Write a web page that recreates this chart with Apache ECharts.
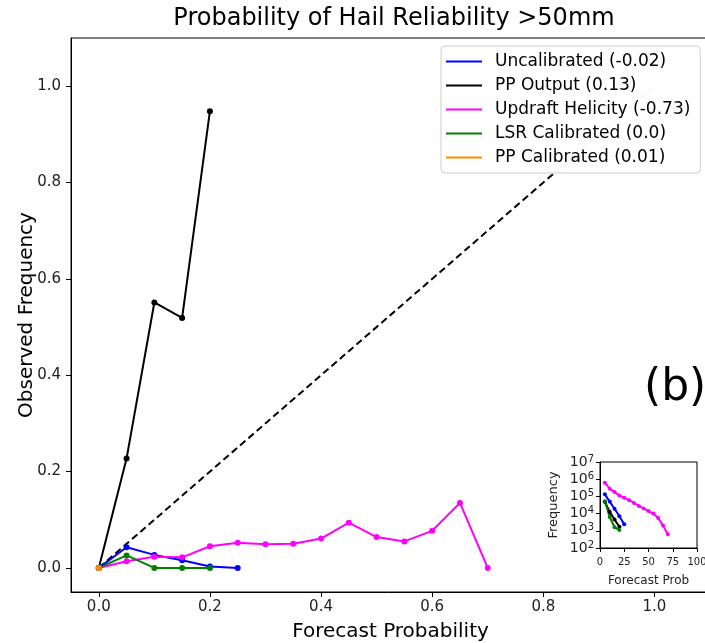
<!DOCTYPE html>
<html>
<head>
<meta charset="utf-8">
<script src="https://cdn.jsdelivr.net/npm/echarts@6/dist/echarts.min.js"></script>
<style>html,body{margin:0;padding:0;background:#fff}#c{width:705px;height:643px}</style>
</head>
<body>
<div id="c"></div>
<script>
// ---- data ----
const probBins = [0, 0.05, 0.1, 0.15, 0.2, 0.25, 0.3, 0.35, 0.4, 0.45, 0.5, 0.55, 0.6, 0.65, 0.7];
const seriesNames = ['Uncalibrated (-0.02)', 'PP Output (0.13)', 'Updraft Helicity (-0.73)', 'LSR Calibrated (0.0)', 'PP Calibrated (0.01)'];
const seriesColors = ['#0000ff', '#000000', '#ff00ff', '#008000', '#ff8c00'];
const uncalObs = [0, 0.043, 0.027, 0.016, 0.003, 0.0];
const ppOutObs = [0, 0.227, 0.551, 0.519, 0.948];
const uhObs = [0, 0.014, 0.023, 0.022, 0.045, 0.052, 0.049, 0.050, 0.061, 0.094, 0.064, 0.055, 0.077, 0.135, 0.0];
const lsrObs = [0, 0.026, 0, 0, 0];
const ppCalObs = [0];
const perfectLine = [[0, 0], [1, 1]];
const mainTicks = [0, 0.2, 0.4, 0.6, 0.8, 1.0];

// inset: forecast prob (%) vs frequency counts
const insetProb = [5, 10, 15, 20, 25, 30, 35, 40, 45, 50, 55, 60, 65, 70];
const uncalCount = [132000, 50000, 19000, 7100, 2400];
const ppOutCount = [49000, 12600, 4500, 1700];
const uhCount = [631000, 282000, 178000, 112000, 83000, 60000, 42000, 28000, 20000, 14000, 10000, 5600, 2000, 630];
const lsrCount = [52000, 6300, 1600, 1100];

const FONT = 'DejaVu Sans';
const pairs = (xs, ys) => ys.map((v, i) => [xs[i], v]);

const mainData = [uncalObs, ppOutObs, uhObs, lsrObs, ppCalObs];
const series = mainData.map((d, i) => ({
  name: seriesNames[i], type: 'line', xAxisIndex: 0, yAxisIndex: 0,
  data: pairs(probBins, d), color: seriesColors[i],
  symbol: 'circle', symbolSize: 6, showSymbol: true,
  lineStyle: {width: 2, color: seriesColors[i]}, itemStyle: {color: seriesColors[i]},
  z: 3 + i, animation: false
}));
series.unshift({
  name: 'perfect', type: 'line', xAxisIndex: 0, yAxisIndex: 0, data: perfectLine,
  symbol: 'none', lineStyle: {color: '#000', width: 2, type: [7, 4]}, z: 2, animation: false
});
const insetData = [[uncalCount, 0], [ppOutCount, 1], [uhCount, 2], [lsrCount, 3]];
insetData.forEach(([d, ci]) => {
  series.push({
    name: 'inset' + ci, type: 'line', xAxisIndex: 1, yAxisIndex: 1,
    data: pairs(insetProb, d), symbol: 'circle', symbolSize: 4,
    lineStyle: {width: 2, color: seriesColors[ci]}, itemStyle: {color: seriesColors[ci]},
    z: 20, animation: false
  });
});

const axisTxt = {color: '#222', fontFamily: FONT};
const option = {
  backgroundColor: '#fff',
  animation: false,
  title: {
    text: 'Probability of Hail Reliability >50mm', left: 389, top: 2, textAlign: 'center',
    textStyle: {fontFamily: FONT, fontSize: 24, fontWeight: 'normal', color: '#000'}
  },
  legend: {
    data: seriesNames, orient: 'vertical', left: 441, top: 46, z: 10,
    icon: 'rect', itemWidth: 36, itemHeight: 2, itemGap: 7,
    padding: [7, 10, 7, 5],
    backgroundColor: 'rgba(255,255,255,0.97)', borderColor: '#cccccc', borderWidth: 1, borderRadius: 4,
    textStyle: {fontFamily: FONT, fontSize: 17, color: '#000', padding: [0, 0, 0, 8]},
    selectedMode: false
  },
  grid: [
    {left: 71, top: 38, width: 639, height: 554, outerBoundsMode: 'none', containLabel: false,
     show: true, borderColor: '#000', borderWidth: 1, backgroundColor: 'transparent'},
    {left: 600, top: 462, width: 97, height: 86, outerBoundsMode: 'none', containLabel: false,
     show: true, borderColor: '#000', borderWidth: 1, backgroundColor: '#fff', z: 15}
  ],
  xAxis: [
    {
      type: 'value', gridIndex: 0, min: -0.05, max: 1.1,
      name: 'Forecast Probability', nameLocation: 'middle', nameGap: 30, nameMoveOverlap: false,
      nameTextStyle: {fontFamily: FONT, fontSize: 20, color: '#000'},
      axisLine: {onZero: false, lineStyle: {color: '#000', width: 1}}, splitLine: {show: false},
      axisTick: {customValues: mainTicks, length: 5, lineStyle: {color: '#000'}},
      axisLabel: Object.assign({customValues: mainTicks, fontSize: 15, margin: 8, formatter: v => v.toFixed(1)}, axisTxt)
    },
    {
      type: 'value', gridIndex: 1, min: 0, max: 100, interval: 25, z: 16,
      name: 'Forecast Prob', nameLocation: 'middle', nameGap: 27, nameMoveOverlap: false,
      nameTextStyle: {fontFamily: FONT, fontSize: 12, color: '#222'},
      axisLine: {onZero: false, lineStyle: {color: '#000'}}, splitLine: {show: false},
      axisTick: {length: 4, lineStyle: {color: '#000'}},
      axisLabel: Object.assign({fontSize: 10, margin: 9, showMaxLabel: true}, axisTxt)
    }
  ],
  yAxis: [
    {
      type: 'value', gridIndex: 0, min: -0.05, max: 1.1,
      name: 'Observed Frequency', nameLocation: 'middle', nameGap: 34, nameMoveOverlap: false,
      nameTextStyle: {fontFamily: FONT, fontSize: 20, color: '#000'},
      axisLine: {show: true, onZero: false, lineStyle: {color: '#000', width: 1}}, splitLine: {show: false},
      axisTick: {show: true, customValues: mainTicks, length: 5, lineStyle: {color: '#000'}},
      axisLabel: Object.assign({customValues: mainTicks, fontSize: 15, margin: 10, formatter: v => v.toFixed(1)}, axisTxt)
    },
    {
      type: 'log', logBase: 10, gridIndex: 1, min: 100, max: 1e7, z: 16,
      name: 'Frequency', nameLocation: 'middle', nameGap: 40, nameMoveOverlap: false,
      nameTextStyle: {fontFamily: FONT, fontSize: 13, color: '#222'},
      axisLine: {show: true, onZero: false, lineStyle: {color: '#000'}}, splitLine: {show: false},
      axisTick: {show: true, length: 4, lineStyle: {color: '#000'}},
      axisLabel: Object.assign({margin: 6,
        formatter: v => '{b|10}{s|' + Math.round(Math.log10(v)) + '}',
        rich: {
          b: {fontSize: 14, fontFamily: FONT, color: '#222', lineHeight: 16},
          s: {fontSize: 10, fontFamily: FONT, color: '#222', verticalAlign: 'top', lineHeight: 16, padding: [0, 0, 6, 0]}
        }}, axisTxt)
    }
  ],
  graphic: [
    {type: 'text', left: 644, top: 367, z: 30,
     style: {text: '(b)', fontFamily: FONT, fontSize: 44, fill: '#000'}}
  ],
  series: series
};
const chart = echarts.init(document.getElementById('c'), null, {renderer: 'canvas'});
chart.setOption(option);
</script>
</body>
</html>
